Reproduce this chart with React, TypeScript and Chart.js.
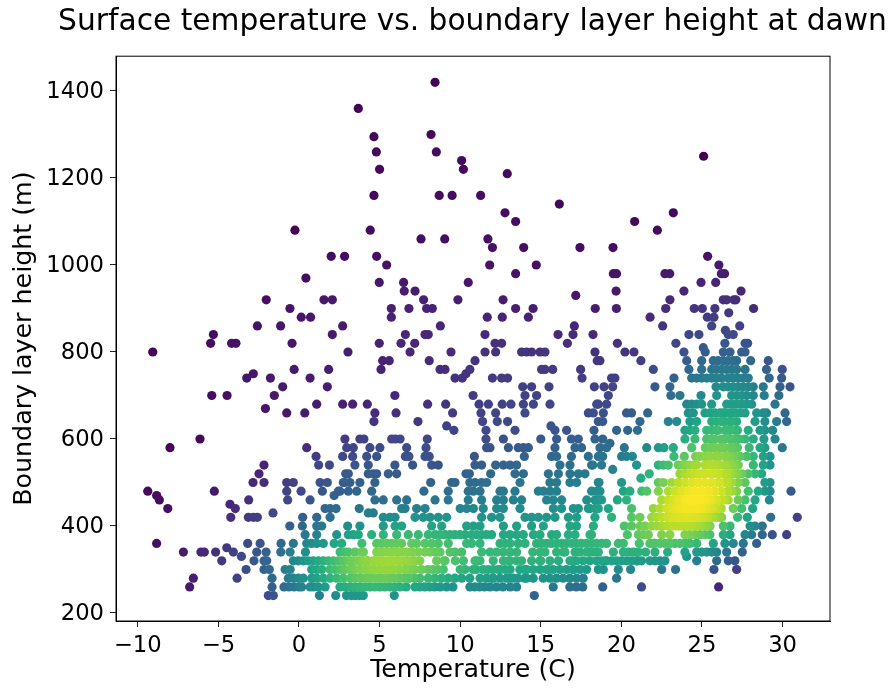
import React, { useEffect, useRef } from "react";
import { Chart, registerables } from "chart.js";

Chart.register(...registerables);

const titleText = "Surface temperature vs. boundary layer height at dawn";
const xLabel = "Temperature (C)";
const yLabel = "Boundary layer height (m)";
const xTickValues = [-10, -5, 0, 5, 10, 15, 20, 25, 30];
const yTickValues = [200, 400, 600, 800, 1000, 1200, 1400];

const t240 = [-1.9,-1.59,1.27,2.28,2.95,3.25,3.5,3.75,3.99,5.91,14.6];
const t260 = [-6.78,-1.67,-0.93,-0.62,-0.31,0,0.17,0.69,0.89,1.2,1.62,2.54,2.85,3.16,3.47,3.78,4.09,4.4,4.71,5.02,5.33,5.64,5.95,6.26,6.65,7.2,7.5,7.8,8.1,8.4,8.75,9.15,9.55,10.6,10.9,11.2,11.5,11.85,12.25,12.65,13.1,13.5,15.77,16.8,17.2,17.6,18.84,21.25,26.03];
const t280 = [-6.55,-3.84,-1.67,-0.66,-0.35,-0.04,0.27,0.79,1.1,1.51,1.93,2.34,2.75,3.2,3.53,3.86,4.19,4.52,4.85,5.18,5.51,5.84,6.17,6.5,6.83,7.16,7.5,8.02,8.43,8.85,9.26,9.67,10.09,10.6,11.23,11.64,12.05,12.47,12.88,13.29,13.6,14.12,14.53,15.15,15.57,15.98,16.39,16.8,17.22,17.63,19.7];
const t300 = [-3.28,-2.17,-1.84,-0.86,-0.55,0.79,1.1,1.41,1.93,2.24,2.55,2.86,3.16,3.47,3.78,4.09,4.4,4.71,5.02,5.33,5.64,5.95,6.26,6.57,6.88,7.19,7.6,8,8.3,8.6,8.95,10,10.3,10.8,11.43,11.74,12.05,12.36,12.8,13.1,13.7,14.12,14.53,14.95,15.36,15.77,16.19,16.6,17.02,17.43,17.84,18.57,18.88,19.81,20.57,22.5,23.36,25.74,27.15];
const t320 = [-4.79,-2.79,-2.17,-2,-0.35,-0.04,0.27,0.58,0.89,1.2,1.51,1.82,2.13,2.44,2.75,3.06,3.37,3.68,3.99,4.3,4.61,4.92,5.23,5.54,5.85,6.16,6.47,6.78,7.09,7.5,8.54,9.06,9.7,10.2,10.92,11.23,12.05,12.68,13.09,13.5,13.81,14.43,14.95,15.57,16.1,16.81,17.22,17.63,18.05,18.46,18.77,19.08,19.39,19.7,20.01,20.32,20.63,20.94,21.25,21.77,22.08,22.39,22.7,24.67,25.91,26.63,27.04];
const t330 = [-3.57,24.05];
const t340 = [-7.17,-6.08,-5.87,-5.17,-4.07,-2.62,-2.04,-1.13,-0.55,0.4,2.55,2.86,3.06,3.47,3.89,4.82,5.13,5.44,5.75,6.06,6.37,6.68,6.99,7.4,7.82,8.13,8.44,8.75,9.37,9.68,10.09,11.33,11.85,12.26,12.68,13.09,14.95,15.26,15.98,16.4,17.12,17.43,17.84,18.26,18.57,20.12,20.43,20.74,21.05,22.08,22.87,23.94,24.67,24.98,25.29,25.6,25.91,26.53,27.5];
const t350 = [-4.48];
const t360 = [-8.83,-3.18,-2.41,-1.11,-0.35,0.48,0.79,1.1,1.51,2.18,2.65,3.9,4.82,5.13,5.44,5.75,6.06,6.37,6.99,7.3,7.82,8.23,8.64,9.26,10.4,10.71,11.23,12.47,12.78,13.09,13.6,14.02,14.74,15.05,15.36,15.67,15.98,16.29,16.6,16.91,17.22,17.53,17.84,18.15,18.46,18.77,19.08,19.81,20.12,21.11,21.77,22.08,22.39,22.7,23.01,23.32,23.63,23.94,24.25,24.67,25.7,26.42,26.94,27.56,28.39];
const t380 = [0.38,1.1,2.34,3.06,3.37,3.68,4.51,5.23,6.06,6.78,7.4,8.02,8.44,8.75,9.06,9.37,9.68,9.99,10.3,10.71,11.02,11.33,11.64,11.95,12.68,13.09,13.5,13.92,14.54,14.95,15.67,15.98,16.71,17.12,18.05,18.15,20.37,21.05,21.36,21.67,22.5,23.01,23.94,24.25,24.56,24.87,25.18,25.49,26.32,26.74,27.67,28.08,28.74,29.36,30.25];
const t400 = [-0.57,0.21,1.1,1.41,3.02,3.78,5.23,5.96,6.37,8.23,8.85,10.4,10.82,11.23,12.68,13.5,14.43,15.16,16.81,17.22,18.26,20.18,20.63,21.15,21.46,21.88,22.19,22.5,22.81,23.12,23.43,23.74,24.05,24.36,24.67,24.98,25.29,26.32,26.74,27.98,28.29,28.74];
const t420 = [-4.23,-3.14,-2.83,-2.58,0.23,1.1,1.93,5.23,5.64,5.96,7.2,7.71,8.13,8.64,9.16,11.33,11.95,12.47,14.02,14.43,14.85,15.36,15.88,16.71,17.22,18.36,19.39,20.63,21.15,21.88,22.19,22.5,22.81,23.12,23.43,23.74,24.05,24.36,24.67,24.98,25.29,25.6,25.91,26.22,27.21,27.81,29.26,30.91];
const t430 = [-1.61,4.3,4.61];
const t440 = [-8.14,-3.95,1.62,1.93,2.3,3.74,6.37,6.58,7.3,7.82,10,10.4,10.82,11.43,12.26,12.68,13.71,15.78,16.29,17.02,17.33,17.95,18.36,18.05,18.57,19.19,20.63,21.98,22.39,22.81,23.2,23.5,23.8,24.1,24.4,24.7,25,25.3,25.6,25.95,26.94,27.46,28.14];
const t450 = [-4.28];
const t460 = [-8.66,-3.12,-0.7,0.69,4.71,5.23,6.06,6.68,8.44,9.26,10.5,11.33,12.26,12.68,13.3,13.81,15.36,15.78,16.29,17.85,18.57,18.36,18.77,19.75,20.32,22.5,22.91,23.53,23.94,24.36,24.77,25.18,25.6,26.22,26.63,27.25,27.67,28.29,29.18];
const t470 = [-8.83,2.18];
const t480 = [-9.38,-5.25,-0.76,0.13,1.45,2.44,2.54,3.06,3.58,4.51,7.75,9.26,10.5,10.82,11.23,12.47,12.68,13.4,14.85,15.16,15.57,15.98,18.15,18.47,18.67,20.12,20.53,21.26,21.57,22.29,22.91,23.32,23.74,24.15,24.56,24.98,25.39,25.8,26.84,27.15,27.87,28.49,28.9,29.22,30.52];
const t500 = [-2.85,-2.17,-0.76,-0.35,1.31,1.76,2.75,2.85,3.16,3.78,4.71,8.17,9.47,9.68,10.6,10.92,11.33,11.64,13.71,15.57,15.98,16.81,17.22,18.57,18.61,20.01,22.29,22.6,23.12,23.53,23.94,24.36,24.77,25.18,25.6,26,26.42,26.84,27.25,27.67,28.9,29.22];
const t510 = [21.21];
const t520 = [-2.48,2.9,3.06,4.3,4.61,4.82,5.54,6.06,10.36,10.57,11.89,13.4,13.92,15.47,16.09,16.81,17.33,17.74,21.73,23.63,23.94,24.25,24.56,24.87,25.18,25.7,26,26.32,26.63,27.05,27.46,27.87,28.29,28.7];
const t530 = [19.46];
const t540 = [-2.17,1.22,1.89,3.47,4.3,5.95,7.05,8.23,8.64,10.92,11.33,12.2,12.68,13.09,13.5,16.19,16.81,18.15,18.22,18.77,20.94,22.29,22.6,22.91,23.53,23.84,24.25,24.67,25.18,25.49,25.8,26.42,26.84,27.25,28.18,28.8,29.22];
const t560 = [1.06,2.71,3.33,4.2,4.82,6.6,6.82,7.82,8.08,10.88,13.98,15.67,15.98,16.9,17.95,18.57,18.84,20.01,20.32,20.68,23.26,23.9,24.87,25.18,25.49,25.8,26.11,26.42,26.74,27.05,27.36,27.77,28.18,28.8,29.22];
const t580 = [-8,0.48,2.96,3.37,4.4,5.02,6.68,7.88,11.64,11.85,12.99,13.6,13.92,14.23,15.88,17.12,17.53,18.67,19.08,20.18,21.57,22.29,22.64,23.22,24.36,25.49,25.8,26.11,26.42,26.74,27.04,27.93,28.6,28.9,29.98];
const t590 = [19.29];
const t600 = [-6.14,2.85,3.78,4.03,5.75,5.98,6.27,7.96,11.6,12.68,15,15.98,16.9,17.33,18.36,18.84,23.94,24.56,25.29,25.8,26.42,26.74,27.04,27.67,28.18,28.84,29.53];
const t620 = [9.61,11.6,13.4,15.88,16.6,18.3,19.7,20.39,21,23.94,24.25,24.56,25.29,25.6,26,26.42,26.74,27.04,27.87,28.6,28.9,29.38];
const t630 = [9.16,15.63];
const t640 = [4.65,7.38,11.39,12.3,12.94,18.57,18.84,21.15,22.91,23.43,24.25,24.67,25.6,25.9,26.42,26.84,27.15,28.29,28.9,29.63,30.25];
const t660 = [-0.76,0.36,4.71,6.02,9.53,11.29,12.2,14.02,17.95,18.26,18.88,20.32,20.63,21.63,24.15,24.46,25.18,25.49,25.8,26.11,26.42,26.74,27.04,27.36,27.67,28.39,28.8,29,30.15];
const t670 = [-2.08];
const t680 = [1.1,2.71,3.33,4.24,7.98,9.1,11.17,11.75,12.61,13.15,13.92,14.54,15.57,18.47,18.57,19.08,24.05,24.36,24.67,24.98,25.6,26.53,26.84,27.15,27.46,27.77,28.08,29.53];
const t700 = [-5.41,-4.46,-1.53,5.95,10.8,14.02,14.74,19.19,23.07,23.63,24.94,25.91,26.84,27.15,27.46,27.77,28.18,28.86,29.77];
const t720 = [-1.01,1.76,13.88,14.43,15.51,18.32,18.92,19.46,22.08,23.01,25.87,26.32,26.63,26.94,27.25,27.56,27.87,28.18,28.8,29.84,30.46];
const t740 = [-3.24,-1.77,0.69,9.68,10.13,12,12.57,12.94,17.56,19.39,19.6,23.26,24.36,24.67,24.98,25.29,25.6,25.9,26.22,26.63,26.94,27.25,27.56,27.87,29.17,29.94];
const t750 = [-2.83,10.36];
const t760 = [-0.3,1.84,5.09,8.75,9.06,10.6,15.05,15.26,15.74,17.47,21.98,24.19,24.98,25.6,25.9,26.22,26.53,26.84,27.15,27.67,29,29.98];
const t780 = [5.19,5.6,8.08,10.92,18.5,18.67,21.21,24.05,24.98,25.7,26,26.32,26.63,26.94,27.15,28.02,29.11];
const t800 = [-9.07,3.04,6.89,9.43,11.54,12.2,13.81,14.12,14.43,14.95,15.26,18.36,20.22,20.78,23.88,25.2,26.32,26.74,27.46,27.67];
const t810 = [25.08];
const t820 = [-5.48,-4.18,-3.91,-0.43,4.98,6.33,7.18,12.16,12.57,16.65,19.75,23.38,26.42,27.67,27.83];
const t840 = [-5.31,2.07,6.6,7.82,8.02,11.54,16.07,17,18.24,24.19,24.81,26.63,26.94];
const t850 = [26.45];
const t860 = [-2.58,-1.14,2.71,8.77,17.08,22.56,25.6,27.34];
const t880 = [0.14,0.72,5.73,11.68,12.61,14.23,21.78,25.33,25.74];
const t890 = [26.66];
const t900 = [-0.56,5.73,6.82,7.92,8.27,13.44,14.52,18.38,19.69,22.75,24.52,25.02,25.8,28.2];
const t920 = [-2.03,1.55,2.07,7.73,9.86,12.66,23.01,26.32,26.53,26.98,27.1];
const t930 = [17.17];
const t940 = [6.53,7.2,19.67,23.88,27.42];
const t960 = [4.98,6.49,10.5,24.94,25.85];
const t970 = [0.43];
const t980 = [13.44,19.5,19.7,22.7,23,26.2,26.4];
const t1000 = [5.44,11.83,14.72,26.05];
const t1020 = [2,2.83,4.82,25.35];
const t1040 = [12,13.94,17.43,19.48];
const t1060 = [7.57,9.04,11.72];
const t1080 = [-0.25,4.42,22.23];
const t1100 = [13.44,20.82];
const t1120 = [12.78,23.22];
const t1140 = [16.15];
const t1160 = [4.65,8.7,9.5,11.27];
const t1210 = [12.92];
const t1220 = [5,10.2];
const t1240 = [10.09];
const t1250 = [25.1];
const t1260 = [4.8,8.52];
const t1295 = [4.65];
const t1300 = [8.19];
const t1360 = [3.68];
const t1420 = [8.44];

// Dots hidden under others where the markers merge: the patch near 25 C and the band near 300 m.
const hidden280 = [3.2,3.8,4.4,5,5.6,6.2,6.8,12,13,14];
const hidden300 = [2.8,3.3,3.8,4.2,4.6,5,5.4,5.8,6.2,6.6,7,11,12.5,14,15.5,17];
const hidden320 = [3.2,3.7,4.2,4.7,5.2,5.7,6.2,6.7,7.2,9,11,13,15,17,19,21];
const hidden340 = [4,5,6,7,13.5,14.5,16.5,18,19.5,21.5];
const hidden360 = [22,23,24];
const hidden400 = [23.2,23.6,24,24.3,24.6,24.9,25.2,25.5];
const hidden420 = [22.9,23.3,23.6,23.9,24.2,24.5,24.8,25.1,25.4,25.7,26.1];
const hidden440 = [23,23.4,23.7,24,24.3,24.6,24.9,25.2,25.5,25.8,26.2];
const hidden460 = [23.2,23.6,24,24.3,24.6,24.9,25.2,25.5,25.9,26.4];
const hidden480 = [23.4,23.8,24.2,24.6,25,25.4,25.8,26.2,26.6];
const hidden500 = [23.6,24,24.4,24.8,25.2,25.6,26.1,26.6];
const hidden520 = [24,24.5,25,25.5,26,26.5,26.8,27.2];
const hidden540 = [24,24.5,25.3,25.7,26.1,26.6,27];
const hidden560 = [24.6,25.2,25.9,26.5,27];
const hidden580 = [25.2,25.6,26.2,26.8,27.2];
const hidden600 = [25.6,26.2,26.8,27.3];
const hidden620 = [25.9,26.6,27.2];
const hidden640 = [26.2,26.7];
const hidden660 = [26.3,26.9];

const rows: [number, number[]][] = [
  [240,t240],[260,t260],[280,t280],[300,t300],[320,t320],[330,t330],[340,t340],[350,t350],[360,t360],[380,t380],
  [400,t400],[420,t420],[430,t430],[440,t440],[450,t450],[460,t460],[470,t470],[480,t480],[500,t500],[510,t510],
  [520,t520],[530,t530],[540,t540],[560,t560],[580,t580],[590,t590],[600,t600],[620,t620],[630,t630],[640,t640],
  [660,t660],[670,t670],[680,t680],[700,t700],[720,t720],[740,t740],[750,t750],[760,t760],[780,t780],[800,t800],
  [810,t810],[820,t820],[840,t840],[850,t850],[860,t860],[880,t880],[890,t890],[900,t900],[920,t920],[930,t930],
  [940,t940],[960,t960],[970,t970],[980,t980],[1000,t1000],[1020,t1020],[1040,t1040],[1060,t1060],[1080,t1080],
  [1100,t1100],[1120,t1120],[1140,t1140],[1160,t1160],[1210,t1210],[1220,t1220],[1240,t1240],[1250,t1250],
  [1260,t1260],[1295,t1295],[1300,t1300],[1360,t1360],[1420,t1420],
  [280,hidden280],[300,hidden300],[320,hidden320],[340,hidden340],[360,hidden360],
  [400,hidden400],[420,hidden420],[440,hidden440],[460,hidden460],[480,hidden480],[500,hidden500],
  [520,hidden520],[540,hidden540],[560,hidden560],[580,hidden580],[600,hidden600],[620,hidden620],
  [640,hidden640],[660,hidden660],
];

const viridis = ["#440154","#482475","#414487","#355f8d","#2a788e","#21918c","#22a884","#44bf70","#7ad151","#bddf26","#fde725"];

function hexToRgb(h: string) {
  return [1, 3, 5].map((i) => parseInt(h.slice(i, i + 2), 16));
}

function colorFor(v: number) {
  const p = Math.min(0.9999, Math.max(0, v)) * (viridis.length - 1);
  const i = Math.floor(p);
  const a = hexToRgb(viridis[i]);
  const b = hexToRgb(viridis[i + 1]);
  const c = a.map((x, k) => Math.round(x + (b[k] - x) * (p - i)));
  return `rgb(${c[0]},${c[1]},${c[2]})`;
}

// Gaussian kernel density at each point (Scott's rule), the colour variable of the plot.
function density(pts: { x: number; y: number }[]) {
  const n = pts.length;
  const mx = pts.reduce((s, p) => s + p.x, 0) / n;
  const my = pts.reduce((s, p) => s + p.y, 0) / n;
  let sxx = 0, syy = 0, sxy = 0;
  for (const p of pts) {
    sxx += (p.x - mx) ** 2;
    syy += (p.y - my) ** 2;
    sxy += (p.x - mx) * (p.y - my);
  }
  const f = Math.pow(n, -1 / 3) / (n - 1);
  sxx *= f; syy *= f; sxy *= f;
  const det = sxx * syy - sxy * sxy;
  const ia = syy / det, ib = -sxy / det, ic = sxx / det;
  return pts.map((p) => {
    let s = 0;
    for (const q of pts) {
      const dx = p.x - q.x, dy = p.y - q.y;
      s += Math.exp(-0.5 * (ia * dx * dx + 2 * ib * dx * dy + ic * dy * dy));
    }
    return s;
  });
}

const FONT = "'DejaVu Sans'";
const INK = "#000";

const framePlugin = {
  id: "frame",
  afterLayout(chart: any) {
    const t = chart.titleBlock;
    if (t) {
      t.left += 57.5;
      t.right += 57.5;
    }
  },
  afterDatasetsDraw(chart: any) {
    const { ctx, chartArea: a } = chart;
    ctx.save();
    ctx.strokeStyle = INK;
    ctx.lineWidth = 1;
    ctx.strokeRect(a.left, a.top, a.right - a.left, a.bottom - a.top);
    ctx.restore();
  },
};

export default function App() {
  const ref = useRef<HTMLCanvasElement | null>(null);
  useEffect(() => {
    document.body.style.margin = "0";
    const pts = rows.flatMap(([y, ts]) => ts.map((x) => ({ x, y })));
    const dens = density(pts);
    const lo = Math.min(...dens), hi = Math.max(...dens);
    const order = pts.map((_, i) => i).sort((a, b) => dens[a] - dens[b]);
    const data = order.map((i) => pts[i]);
    const colors = order.map((i) => colorFor((dens[i] - lo) / (hi - lo)));
    const chart = new Chart(ref.current as HTMLCanvasElement, {
      type: "scatter",
      data: {
        datasets: [
          {
            data,
            backgroundColor: colors,
            pointBackgroundColor: colors,
            pointRadius: 4.6,
            pointBorderWidth: 0,
          },
        ],
      } as any,
      options: {
        animation: false,
        responsive: false,
        layout: { padding: { left: 0, right: 64, top: 0, bottom: 0 } },
        plugins: {
          legend: { display: false },
          tooltip: { enabled: false },
          title: {
            display: true,
            text: titleText,
            color: INK,
            font: { family: FONT, size: 29.7, weight: "normal", lineHeight: 1 },
            padding: { top: 7, bottom: 19.5 },
          },
        },
        scales: {
          x: {
            type: "linear",
            min: -11.35,
            max: 32.94,
            afterBuildTicks: (s: any) => {
              s.ticks = xTickValues.map((value) => ({ value }));
            },
            afterFit: (s: any) => {
              s.height = 70;
            },
            grid: { drawOnChartArea: false, drawTicks: true, tickLength: 6, tickColor: "#222", tickWidth: 1 },
            border: { display: true, color: INK, width: 1 },
            ticks: {
              color: INK,
              maxRotation: 0,
              padding: 5,
              autoSkip: false,
              font: { family: FONT, size: 22.7 },
              callback: (v: any) => String(v).replace("-", "\u2212"),
            },
            title: {
              display: true,
              text: xLabel,
              color: INK,
              font: { family: FONT, size: 25.3, lineHeight: 1 },
              padding: { top: 0, bottom: 8 },
            },
          },
          y: {
            type: "linear",
            min: 181.6,
            max: 1480,
            afterBuildTicks: (s: any) => {
              s.ticks = yTickValues.map((value) => ({ value }));
            },
            afterFit: (s: any) => {
              s.width = 116;
            },
            grid: { drawOnChartArea: false, drawTicks: true, tickLength: 6, tickColor: "#222", tickWidth: 1 },
            border: { display: true, color: INK, width: 1 },
            ticks: {
              color: INK,
              padding: 6,
              labelOffset: 1.5,
              autoSkip: false,
              font: { family: FONT, size: 22.7 },
              callback: (v: any) => String(v),
            },
            title: {
              display: true,
              text: yLabel,
              color: INK,
              font: { family: FONT, size: 25.3, lineHeight: 1 },
              padding: { top: 12, bottom: 0 },
            },
          },
        },
      },
      plugins: [framePlugin],
    } as any);
    return () => chart.destroy();
  }, []);
  return <canvas ref={ref} width={894} height={691} style={{ display: "block" }} />;
}
